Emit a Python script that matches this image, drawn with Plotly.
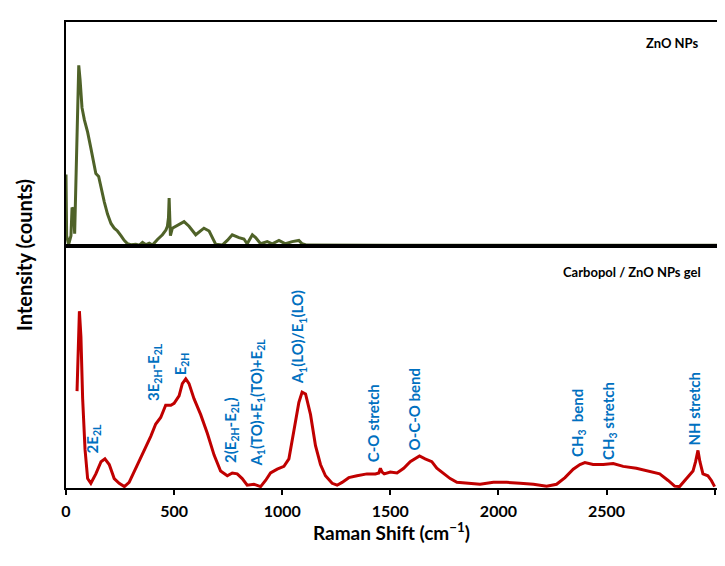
import plotly.graph_objects as go
from plotly.subplots import make_subplots

# ---- data ----
zno_shift = [0, 3, 12, 23, 28, 36, 40, 46, 53, 59, 65, 74, 85, 100, 115, 131, 138, 151, 162, 177,
             192, 208, 223, 238, 254, 269, 285, 300, 323, 340, 354, 370, 385, 400, 423, 446, 462,
             469, 474, 477, 480, 483, 492, 515, 546, 569, 600, 638, 662, 692, 723, 746, 769, 800,
             823, 838, 862, 877, 900, 931, 954, 985, 1015, 1046, 1077, 1092, 1115, 1500, 2000,
             2500, 3011]
zno_int = [76, 11, 1.4, 11, 41, 38, 13, 61, 144, 192, 177, 147, 134, 121, 104, 84, 77, 74, 61, 47,
           34, 24, 19, 16, 11, 6, 2.4, 1.5, 2, 1, 4, 1.5, 3, 1, 7, 12, 17,
           21, 30, 51, 30, 11, 19, 22, 26, 21, 12, 19, 16, 2, 1, 6, 12, 9,
           7.5, 2.4, 12, 9, 2.4, 4.7, 2.4, 6, 2.4, 4.7, 6, 2.4, 1, 0.8, 0.8,
           0.8, 0.8]

gel_shift = [51, 62, 69, 77, 88, 100, 115, 138, 162, 180, 200, 223, 246, 270, 292, 323, 362, 392,
             415, 438, 461, 485, 500, 523, 538, 554, 569, 592, 623, 654, 685, 715, 746, 769, 792,
             815, 838, 869, 900, 923, 946, 977, 1008, 1031, 1054, 1077, 1092, 1108, 1131, 1154,
             1177, 1200, 1231, 1254, 1277, 1308, 1346, 1392, 1431, 1447, 1454, 1462, 1472, 1500,
             1531, 1562, 1592, 1615, 1635, 1661, 1692, 1715, 1746, 1777, 1808, 1854, 1915, 1977,
             2038, 2100, 2162, 2223, 2269, 2308, 2346, 2377, 2400, 2438, 2485, 2531, 2577, 2638,
             2700, 2746, 2785, 2815, 2838, 2862, 2885, 2900, 2912, 2923, 2932, 2946, 2969, 2985,
             3000]
gel_int = [103, 188, 161, 95, 41, 10, 5, 15, 28, 31, 25, 10, 5, 1.5, 6, 21, 41, 55,
           68, 75, 88, 88, 90, 98, 111, 116, 111, 95, 78, 58, 35, 18, 13, 16, 15,
           10, 3, 4, 1.5, 8, 16, 20, 23, 31, 61, 91, 102, 100, 78, 45,
           25, 13, 5, 3, 6, 11, 13, 15, 15, 16, 21, 17, 15, 17,
           16, 21, 28, 31, 34, 31, 28, 21, 15, 10, 6, 5, 4, 6,
           6, 5, 4, 2, 4, 11, 20, 25, 27, 25, 25, 26, 23, 21,
           18, 15, 8, 2, 1.5, 8, 15, 18, 28, 40, 28, 15, 13, 8,
           1.5]

band_labels = ["2E<sub>2L</sub>", "3E<sub>2H</sub>-E<sub>2L</sub>", "E<sub>2H</sub>",
               "2(E<sub>2H</sub>-E<sub>2L</sub>)", "A<sub>1</sub>(TO)+E<sub>1</sub>(TO)+E<sub>2L</sub>",
               "A<sub>1</sub>(LO)/E<sub>1</sub>(LO)", "C-O stretch", "O-C-O bend",
               "CH<sub>3</sub>  bend", "CH<sub>3</sub> stretch", "NH stretch"]
band_shift = [124, 410, 531, 766, 885, 1077, 1423, 1608, 2369, 2508, 2907]
band_level = [35, 90, 118, 24, 21, 108, 25, 38, 31, 28, 43]

# ---- figure ----
FONT = "Lato"
fig = make_subplots(rows=2, cols=1, shared_xaxes=True, vertical_spacing=0,
                    row_heights=[0.4808, 0.5192])

fig.add_trace(go.Scatter(x=zno_shift, y=zno_int, mode="lines",
                         line=dict(color="#4F6228", width=3), showlegend=False),
              row=1, col=1)
fig.add_trace(go.Scatter(x=gel_shift, y=gel_int, mode="lines",
                         line=dict(color="#C00000", width=3), showlegend=False),
              row=2, col=1)

axis_common = dict(showgrid=False, zeroline=False, showline=True, linecolor="black",
                   linewidth=2, mirror=True)
fig.update_xaxes(range=[0, 3011], **axis_common)
fig.update_xaxes(row=1, col=1, ticks="", showticklabels=False)
fig.update_xaxes(row=2, col=1, ticks="outside", ticklen=5, tickwidth=2, tickcolor="black",
                 dtick=500, tick0=0, ticklabelstandoff=3,
                 tickfont=dict(family=FONT, size=16, color="black", weight="bold"))
fig.update_yaxes(showticklabels=False, ticks="", **axis_common)
fig.update_yaxes(row=1, col=1, range=[0, 238])
fig.update_yaxes(row=2, col=1, range=[0, 257.3])

annotations = []
for txt, xs, yl in zip(band_labels, band_shift, band_level):
    annotations.append(dict(text=txt, x=xs, y=yl, xref="x2", yref="y2", textangle=-90,
                            xanchor="center", yanchor="bottom", showarrow=False,
                            font=dict(family=FONT, size=15, color="#0070C0", weight="bold")))

annotations += [
    dict(text="ZnO NPs", x=0.9734, y=0.955, xref="paper", yref="paper", xanchor="right",
         yanchor="middle", showarrow=False,
         font=dict(family=FONT, size=13, color="black", weight="bold")),
    dict(text="Carbopol / ZnO NPs gel", x=0.9785, y=0.4638, xref="paper", yref="paper",
         xanchor="right", yanchor="middle", showarrow=False,
         font=dict(family=FONT, size=13, color="black", weight="bold")),
    dict(text="Raman Shift (cm<sup>−1</sup>)", x=0.5, y=-0.093, xref="paper", yref="paper",
         xanchor="center", yanchor="middle", showarrow=False,
         font=dict(family=FONT, size=19, color="black", weight="bold")),
    dict(text="Intensity (counts)", x=-0.0645, y=0.5, xref="paper", yref="paper",
         xanchor="center", yanchor="middle", textangle=-90, showarrow=False,
         font=dict(family=FONT, size=20, color="black", weight="bold")),
]

fig.update_layout(width=725, height=566, margin=dict(l=58, r=16, t=12, b=86),
                  plot_bgcolor="white", paper_bgcolor="white", annotations=annotations,
                  font=dict(family=FONT))

fig.write_html("out.html")
